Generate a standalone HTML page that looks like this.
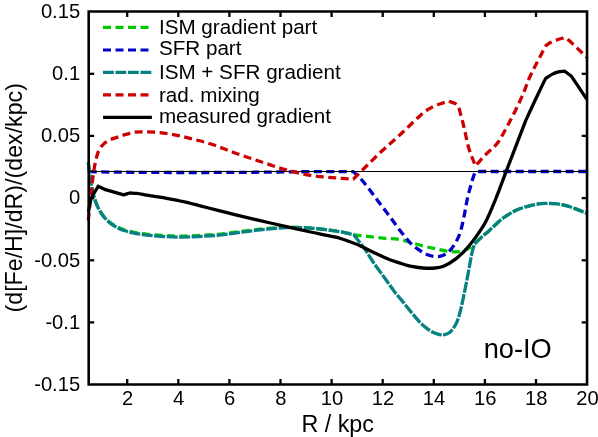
<!DOCTYPE html>
<html><head><meta charset="utf-8"><style>
html,body{margin:0;padding:0;background:#fff;}
svg{display:block;font-family:"Liberation Sans",sans-serif;will-change:transform;}
</style></head><body>
<svg width="598" height="437" viewBox="0 0 598 437">
<rect width="598" height="437" fill="#fff"/>
<g fill="none" stroke-width="3.3" stroke-linejoin="round">
<path d="M88.30,162.34 C88.87,166.87 89.34,171.41 90.00,175.93 C90.64,180.34 91.19,184.78 92.20,189.12 C93.33,193.98 94.53,198.87 96.40,203.50 C98.02,207.50 100.04,211.40 102.60,214.87 C104.89,217.97 107.77,220.64 110.80,223.03 C113.28,224.99 116.19,226.35 119.00,227.79 C120.60,228.61 122.28,229.26 124.00,229.78 C126.96,230.69 129.97,231.44 133.00,232.07 C136.31,232.76 139.65,233.27 143.00,233.75 C145.32,234.09 147.66,234.34 150.00,234.53 C155.56,234.99 161.13,235.45 166.70,235.71 C172.26,235.97 177.83,236.16 183.40,236.11 C189.00,236.06 194.60,235.68 200.20,235.40 C205.77,235.12 211.35,234.91 216.90,234.42 C222.48,233.93 228.04,233.14 233.60,232.44 C239.07,231.75 244.53,230.93 250.00,230.26 C253.39,229.85 256.79,229.48 260.20,229.19 C268.56,228.48 276.91,227.49 285.30,227.28 C293.70,227.07 302.12,227.33 310.50,227.95 C318.94,228.57 327.32,229.82 335.70,230.98 C339.16,231.46 342.58,232.15 346.00,232.87 C348.62,233.42 351.20,234.16 353.80,234.80 C364.20,235.97 374.59,237.24 385.00,238.30 C389.99,238.81 395.05,238.71 400.00,239.50 C403.48,240.05 406.81,241.33 410.20,242.30 C414.41,243.50 418.55,244.93 422.80,246.00 C426.93,247.04 431.13,247.73 435.30,248.60 C439.43,249.46 443.51,250.63 447.70,251.20 C451.17,251.67 454.71,251.97 458.20,251.70 C460.77,251.50 463.29,250.72 465.70,249.80 C467.60,249.07 469.31,247.93 471.00,246.80 C472.22,245.99 473.27,244.93 474.40,244.00 C476.27,242.20 478.08,240.34 480.00,238.60 C483.08,235.81 486.31,233.18 489.40,230.40 C491.64,228.38 493.76,226.22 496.00,224.20 C498.23,222.19 500.41,220.12 502.80,218.30 C504.92,216.68 507.21,215.28 509.50,213.90 C511.65,212.61 513.83,211.36 516.10,210.30 C518.27,209.29 520.53,208.46 522.80,207.70 C525.00,206.96 527.24,206.33 529.50,205.80 C532.98,204.99 536.47,204.23 540.00,203.70 C541.98,203.40 544.00,203.30 546.00,203.30 C549.04,203.30 552.08,203.38 555.10,203.70 C558.46,204.06 561.82,204.55 565.10,205.35 C568.50,206.18 571.81,207.39 575.10,208.60 C578.95,210.01 582.70,211.67 586.50,213.20" stroke="#00c800" stroke-dasharray="8 4.5"/>
<path d="M88.80,171.70 C99.20,171.87 109.60,172.09 120.00,172.20 C133.33,172.34 146.67,172.40 160.00,172.45 C173.33,172.50 186.67,172.52 200.00,172.50 C216.67,172.47 233.33,172.42 250.00,172.30 C266.67,172.17 283.33,171.91 300.00,171.75 C310.00,171.66 320.00,171.58 330.00,171.55 C337.77,171.53 345.53,171.58 353.30,171.60 C356.37,174.63 359.77,177.36 362.50,180.70 C370.35,190.29 377.45,200.47 385.00,210.30 C393.35,221.17 401.04,232.60 410.20,242.80 C413.73,246.73 418.36,249.55 422.80,252.40 C425.00,253.81 427.52,254.67 430.00,255.50 C431.71,256.07 433.50,256.48 435.30,256.60 C437.07,256.72 438.91,256.72 440.60,256.20 C443.01,255.46 445.45,254.50 447.40,252.90 C450.05,250.72 452.25,247.98 454.10,245.10 C456.41,241.50 458.38,237.63 459.80,233.60 C461.63,228.42 462.63,222.97 463.80,217.60 C465.07,211.77 465.91,205.85 467.10,200.00 C467.61,197.48 468.24,194.99 468.90,192.50 C470.08,188.05 471.27,183.60 472.60,179.20 C473.24,177.10 473.91,175.01 474.80,173.00 C475.06,172.41 475.60,172.00 476.00,171.50 C513.00,171.50 550.00,171.50 587.00,171.50" stroke="#0000c8" stroke-dasharray="8 4.5"/>
<path d="M88.30,162.54 C88.87,167.08 89.34,171.63 90.00,176.15 C90.64,180.57 91.19,185.02 92.20,189.38 C93.33,194.27 94.53,199.17 96.40,203.83 C98.02,207.86 100.04,211.78 102.60,215.29 C104.89,218.43 107.77,221.15 110.80,223.59 C113.28,225.58 116.18,227.00 119.00,228.48 C120.59,229.32 122.28,229.97 124.00,230.51 C126.96,231.43 129.97,232.20 133.00,232.85 C136.31,233.56 139.65,234.08 143.00,234.59 C145.32,234.94 147.66,235.21 150.00,235.42 C155.56,235.91 161.12,236.39 166.70,236.67 C172.26,236.95 177.83,237.13 183.40,237.09 C189.00,237.04 194.60,236.69 200.20,236.40 C205.77,236.11 211.35,235.86 216.90,235.35 C222.48,234.83 228.04,234.03 233.60,233.31 C239.07,232.60 244.53,231.77 250.00,231.06 C253.39,230.62 256.79,230.21 260.20,229.88 C268.56,229.08 276.91,227.98 285.30,227.69 C293.70,227.40 302.12,227.57 310.50,228.13 C318.94,228.69 327.32,229.90 335.70,231.04 C339.16,231.51 342.58,232.25 346.00,232.96 C348.62,233.50 351.20,234.19 353.80,234.80 C357.47,239.57 361.32,244.19 364.80,249.10 C367.96,253.57 370.60,258.39 373.70,262.90 C377.23,268.03 381.05,272.95 384.70,278.00 C387.92,282.45 390.96,287.03 394.30,291.40 C397.13,295.11 400.25,298.58 403.20,302.20 C405.95,305.58 408.61,309.05 411.40,312.40 C414.21,315.78 416.97,319.22 420.00,322.40 C421.81,324.30 423.85,325.96 425.90,327.60 C427.66,329.00 429.44,330.40 431.40,331.50 C433.16,332.48 435.07,333.21 437.00,333.80 C438.79,334.35 440.63,334.86 442.50,334.90 C443.90,334.93 445.30,334.52 446.60,334.00 C447.93,333.47 449.30,332.83 450.30,331.80 C452.28,329.77 454.02,327.47 455.40,325.00 C456.91,322.30 457.99,319.36 458.90,316.40 C460.29,311.87 461.27,307.22 462.30,302.60 C463.53,297.09 464.60,291.54 465.70,286.00 C466.80,280.51 467.86,275.01 468.90,269.50 C469.90,264.21 470.66,258.87 471.80,253.60 C472.50,250.36 473.53,247.20 474.40,244.00 C476.27,242.20 478.08,240.34 480.00,238.60 C483.08,235.81 486.31,233.18 489.40,230.40 C491.64,228.38 493.76,226.22 496.00,224.20 C498.23,222.19 500.41,220.12 502.80,218.30 C504.92,216.68 507.21,215.28 509.50,213.90 C511.65,212.61 513.83,211.36 516.10,210.30 C518.27,209.29 520.53,208.46 522.80,207.70 C525.00,206.96 527.24,206.33 529.50,205.80 C532.98,204.99 536.47,204.23 540.00,203.70 C541.98,203.40 544.00,203.30 546.00,203.30 C549.04,203.30 552.08,203.38 555.10,203.70 C558.46,204.06 561.82,204.55 565.10,205.35 C568.50,206.18 571.81,207.39 575.10,208.60 C578.95,210.01 582.70,211.67 586.50,213.20" stroke="#068181" stroke-dasharray="11 1.5"/>
<line x1="88.7" y1="171.5" x2="587.2" y2="171.5" stroke="#000" stroke-width="1.2"/>
<path d="M88.30,220.50 C88.97,213.67 89.59,206.83 90.30,200.00 C90.89,194.33 91.50,188.66 92.20,183.00 C92.80,178.16 93.40,173.31 94.20,168.50 C94.77,165.11 95.49,161.74 96.30,158.40 C96.86,156.10 97.34,153.76 98.30,151.60 C99.19,149.62 100.48,147.82 101.80,146.10 C102.79,144.81 103.89,143.57 105.20,142.60 C106.89,141.35 108.78,140.37 110.70,139.50 C112.47,138.70 114.37,138.23 116.20,137.60 C118.03,136.97 119.85,136.29 121.70,135.70 C123.52,135.12 125.36,134.62 127.20,134.10 C129.50,133.45 131.74,132.52 134.10,132.20 C137.17,131.78 140.30,131.90 143.40,131.90 C146.97,131.90 150.54,131.99 154.10,132.20 C157.24,132.39 160.38,132.68 163.50,133.10 C167.99,133.71 172.46,134.41 176.90,135.30 C181.30,136.18 185.65,137.29 190.00,138.40 C196.99,140.19 204.04,141.77 210.90,144.00 C219.06,146.65 226.92,150.13 235.00,153.00 C243.35,155.97 251.78,158.72 260.20,161.50 C268.55,164.26 276.83,167.26 285.30,169.60 C293.61,171.90 301.99,174.00 310.50,175.40 C318.83,176.77 327.29,177.17 335.70,177.90 C341.56,178.41 347.43,178.70 353.30,179.10 C362.20,170.33 370.94,161.40 380.00,152.80 C386.71,146.43 393.81,140.48 400.60,134.20 C407.54,127.78 414.12,120.97 421.20,114.70 C423.74,112.45 426.50,110.45 429.40,108.70 C431.99,107.14 434.79,105.92 437.60,104.80 C441.17,103.38 444.87,102.33 448.50,101.10 C451.33,102.33 454.92,102.52 457.00,104.80 C459.33,107.36 459.69,111.19 460.70,114.50 C462.16,119.27 463.25,124.15 464.40,129.00 C465.78,134.81 466.72,140.74 468.30,146.50 C469.42,150.59 471.01,154.53 472.50,158.50 C473.45,161.03 474.57,163.50 475.60,166.00 C478.53,162.63 481.31,159.12 484.40,155.90 C488.38,151.75 493.06,148.27 496.80,143.90 C499.27,141.02 500.87,137.50 502.90,134.30 C505.67,129.13 508.50,124.00 511.20,118.80 C513.67,114.04 516.00,109.20 518.40,104.40 C520.23,100.30 522.18,96.25 523.90,92.10 C526.04,86.94 527.62,81.55 530.00,76.50 C534.83,66.24 540.33,56.30 545.50,46.20 C546.83,45.13 548.00,43.81 549.50,43.00 C552.00,41.65 554.72,40.75 557.40,39.80 C559.83,38.94 562.33,38.33 564.80,37.60 C566.37,38.67 567.93,39.73 569.50,40.80 C575.27,46.30 581.03,51.80 586.80,57.30" stroke="#cc0000" stroke-dasharray="8 4.5"/>
<path d="M88.50,211.90 C89.40,207.43 89.59,202.76 91.20,198.50 C92.86,194.12 95.87,190.37 98.20,186.30 C100.30,187.30 102.40,188.30 104.50,189.30 C110.90,191.13 117.30,192.97 123.70,194.80 C125.77,194.20 127.83,193.60 129.90,193.00 C132.20,193.13 134.51,193.11 136.80,193.40 C140.02,193.81 143.20,194.56 146.40,195.10 C149.13,195.56 151.87,195.96 154.60,196.40 C158.64,197.06 162.68,197.66 166.70,198.40 C172.28,199.43 177.86,200.46 183.40,201.70 C189.03,202.96 194.60,204.50 200.20,205.90 C205.77,207.30 211.33,208.70 216.90,210.10 C222.47,211.50 228.02,212.95 233.60,214.30 C242.46,216.45 251.33,218.52 260.20,220.60 C268.56,222.56 276.93,224.50 285.30,226.40 C293.69,228.30 302.09,230.20 310.50,232.00 C318.89,233.80 327.36,235.20 335.70,237.20 C339.61,238.14 343.41,239.47 347.20,240.80 C351.51,242.31 355.83,243.84 360.00,245.70 C364.67,247.78 369.08,250.41 373.70,252.60 C378.25,254.75 382.82,256.85 387.50,258.70 C392.00,260.48 396.61,261.98 401.20,263.50 C404.17,264.48 407.13,265.56 410.20,266.20 C414.35,267.07 418.57,267.70 422.80,268.00 C426.96,268.30 431.15,268.39 435.30,268.00 C438.29,267.72 441.35,267.21 444.10,266.00 C448.16,264.21 451.96,261.78 455.50,259.10 C459.13,256.35 462.41,253.14 465.50,249.80 C469.12,245.89 472.48,241.72 475.60,237.40 C479.22,232.38 482.83,227.29 485.70,221.80 C489.55,214.45 492.58,206.69 495.70,199.00 C499.28,190.18 502.40,181.19 505.80,172.30 C509.13,163.59 512.55,154.91 515.90,146.20 C519.15,137.77 522.37,129.33 525.60,120.90 C528.73,114.10 531.81,107.27 535.00,100.50 C538.45,93.17 542.00,85.90 545.50,78.60 C547.67,77.20 549.71,75.59 552.00,74.40 C554.03,73.34 556.18,72.46 558.40,71.90 C560.48,71.38 562.67,71.43 564.80,71.20 C567.03,72.90 569.27,74.60 571.50,76.30 C576.63,84.00 581.77,91.70 586.90,99.40" stroke="#000" stroke-width="3.3"/>
</g>
<g stroke="#000" stroke-width="2.3"><line x1="127.2" y1="384.5" x2="127.2" y2="379.0"/><line x1="127.2" y1="11.5" x2="127.2" y2="17.0"/><line x1="178.3" y1="384.5" x2="178.3" y2="379.0"/><line x1="178.3" y1="11.5" x2="178.3" y2="17.0"/><line x1="229.4" y1="384.5" x2="229.4" y2="379.0"/><line x1="229.4" y1="11.5" x2="229.4" y2="17.0"/><line x1="280.5" y1="384.5" x2="280.5" y2="379.0"/><line x1="280.5" y1="11.5" x2="280.5" y2="17.0"/><line x1="331.6" y1="384.5" x2="331.6" y2="379.0"/><line x1="331.6" y1="11.5" x2="331.6" y2="17.0"/><line x1="382.7" y1="384.5" x2="382.7" y2="379.0"/><line x1="382.7" y1="11.5" x2="382.7" y2="17.0"/><line x1="433.8" y1="384.5" x2="433.8" y2="379.0"/><line x1="433.8" y1="11.5" x2="433.8" y2="17.0"/><line x1="484.9" y1="384.5" x2="484.9" y2="379.0"/><line x1="484.9" y1="11.5" x2="484.9" y2="17.0"/><line x1="536.0" y1="384.5" x2="536.0" y2="379.0"/><line x1="536.0" y1="11.5" x2="536.0" y2="17.0"/><line x1="88.7" y1="73.8" x2="94.2" y2="73.8"/><line x1="587.2" y1="73.8" x2="581.7" y2="73.8"/><line x1="88.7" y1="135.9" x2="94.2" y2="135.9"/><line x1="587.2" y1="135.9" x2="581.7" y2="135.9"/><line x1="88.7" y1="198.1" x2="94.2" y2="198.1"/><line x1="587.2" y1="198.1" x2="581.7" y2="198.1"/><line x1="88.7" y1="260.3" x2="94.2" y2="260.3"/><line x1="587.2" y1="260.3" x2="581.7" y2="260.3"/><line x1="88.7" y1="322.4" x2="94.2" y2="322.4"/><line x1="587.2" y1="322.4" x2="581.7" y2="322.4"/></g>
<path d="M88.7,384.5 L88.7,11.5 L587.0500000000001,11.5 L587.0500000000001,384.5 Z" fill="none" stroke="#000" stroke-width="2.6" stroke-linejoin="miter"/>
<g font-size="20.2px" fill="#000"><text x="127.5" y="405.3" text-anchor="middle">2</text><text x="178.6" y="405.3" text-anchor="middle">4</text><text x="229.7" y="405.3" text-anchor="middle">6</text><text x="280.8" y="405.3" text-anchor="middle">8</text><text x="331.9" y="405.3" text-anchor="middle">10</text><text x="383.0" y="405.3" text-anchor="middle">12</text><text x="434.1" y="405.3" text-anchor="middle">14</text><text x="485.2" y="405.3" text-anchor="middle">16</text><text x="536.3" y="405.3" text-anchor="middle">18</text><text x="587.4" y="405.3" text-anchor="middle">20</text><text x="80.2" y="17.8" text-anchor="end">0.15</text><text x="80.2" y="80.0" text-anchor="end">0.1</text><text x="80.2" y="142.1" text-anchor="end">0.05</text><text x="80.2" y="204.3" text-anchor="end">0</text><text x="80.2" y="266.5" text-anchor="end">-0.05</text><text x="80.2" y="328.6" text-anchor="end">-0.1</text><text x="80.2" y="390.8" text-anchor="end">-0.15</text></g><g font-size="20.65px" fill="#000"><line x1="103.0" y1="27.4" x2="151.9" y2="27.4" stroke="#00c800" stroke-width="3.1" stroke-dasharray="8 4.5"/><text x="158.9" y="33.8">ISM gradient part</text><line x1="103.0" y1="50.0" x2="151.9" y2="50.0" stroke="#0000c8" stroke-width="3.1" stroke-dasharray="8 4.5"/><text x="158.9" y="55.4">SFR part</text><line x1="103.0" y1="72.4" x2="151.9" y2="72.4" stroke="#068181" stroke-width="3.1" stroke-dasharray="10.8 1.7"/><text x="158.9" y="78.7">ISM + SFR gradient</text><line x1="103.0" y1="94.9" x2="151.9" y2="94.9" stroke="#cc0000" stroke-width="3.1" stroke-dasharray="8 4.5"/><text x="158.9" y="101.8">rad. mixing</text><line x1="103.0" y1="117.4" x2="151.9" y2="117.4" stroke="#000" stroke-width="3.3"/><text x="158.9" y="123.4">measured gradient</text></g>
<text x="483.7" y="358.3" font-size="27.2px">no-IO</text>
<text x="337.7" y="432.2" font-size="23.3px" text-anchor="middle">R / kpc</text>
<text transform="translate(22.2,197.8) rotate(-90)" font-size="23.2px" text-anchor="middle">(d[Fe/H]/dR)/(dex/kpc)</text>
</svg>
</body></html>
